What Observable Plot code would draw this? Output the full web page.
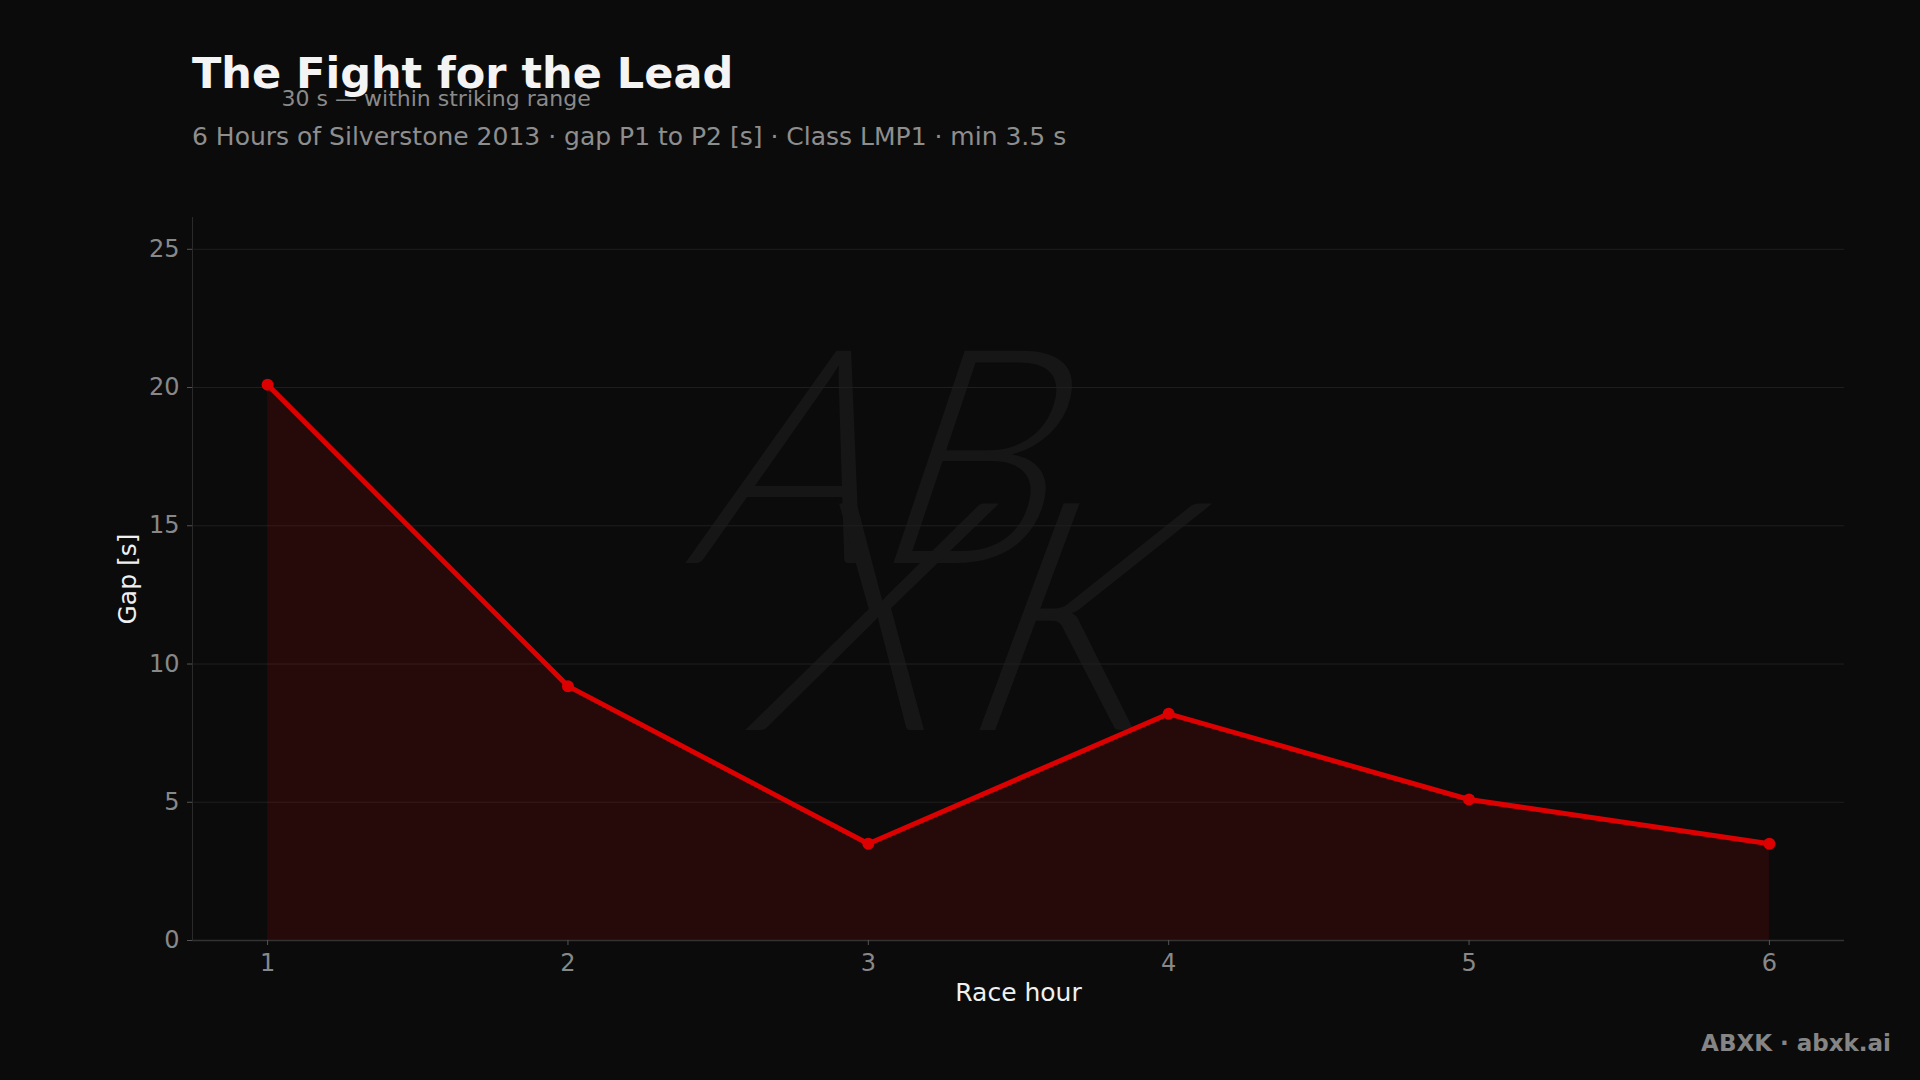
<!DOCTYPE html>
<html>
<head>
<meta charset="utf-8">
<script src="https://cdn.jsdelivr.net/npm/d3@7"></script>
<script src="https://cdn.jsdelivr.net/npm/@observablehq/plot@0.6"></script>
<style>
  html, body { margin: 0; padding: 0; background: #0b0b0b; }
  #page { position: relative; width: 1920px; height: 1080px; overflow: hidden; background: #0b0b0b; font-family: "DejaVu Sans", sans-serif; }
  #title { position: absolute; left: 192px; top: 52px; font-size: 43px; font-weight: bold; color: #f4f4f4; white-space: nowrap; line-height: 1; }
  #subtitle { position: absolute; left: 192px; top: 124px; font-size: 25px; color: #8e8e8e; white-space: nowrap; line-height: 1; }
  #footer { position: absolute; right: 29px; top: 1032px; font-size: 23px; font-weight: bold; color: #858585; white-space: nowrap; line-height: 1; }
  #wm { position: absolute; left: 0; top: 0; }
  #chart { position: absolute; left: 0; top: 0; }
</style>
</head>
<body>
<div id="page">
  <svg id="wm" width="1920" height="1080">
    <g fill="#161616" font-family="Lato, sans-serif" font-style="italic" font-weight="300" font-size="300">
      <text x="700" y="563" transform="skewX(-12) translate(112,0)">AB</text>
      <text x="770" y="730" letter-spacing="20" font-size="320" transform="skewX(-14) translate(165,0)">XK</text>
    </g>
  </svg>
  <div id="chart"></div>
  <div id="title">The Fight for the Lead</div>
  <div id="subtitle">6 Hours of Silverstone 2013 · gap P1 to P2 [s] · Class LMP1 · min 3.5 s</div>
  <div id="footer">ABXK · abxk.ai</div>
</div>
<script>
// ---- data ----
const hours = [1, 2, 3, 4, 5, 6];
const gaps = [20.1, 9.2, 3.5, 8.2, 5.1, 3.5];
const yTicks = [0, 5, 10, 15, 20, 25];
const xTicks = [1, 2, 3, 4, 5, 6];
const annotationX = [1];
const annotationY = [30];
const annotationText = ["30 s — within striking range"];
const xLabel = "Race hour";
const yLabel = "Gap [s]";

const data = hours.map((h, i) => ({hour: h, gap: gaps[i]}));
const notes = annotationX.map((x, i) => ({x, y: annotationY[i], text: annotationText[i]}));

const red = "#dd0000";

const chart = Plot.plot({
  width: 1920,
  height: 1080,
  marginTop: 217,
  marginBottom: 140,
  marginLeft: 192,
  marginRight: 76,
  style: {background: "transparent", color: "#888", fontFamily: "DejaVu Sans, sans-serif", fontSize: "24px", overflow: "visible"},
  x: {domain: [0.75, 6.25]},
  y: {domain: [0, 26.15]},
  marks: [
    Plot.gridY(yTicks.filter(d => d > 0), {stroke: "#1f1f1f", strokeOpacity: 1, strokeWidth: 1}),
    Plot.areaY(data, {x: "hour", y: "gap", fill: red, fillOpacity: 0.13}),
    Plot.ruleY([0], {stroke: "#333", strokeWidth: 1.5}),
    Plot.ruleX([0.75], {y1: 0, y2: 26.15, stroke: "#2a2a2a", strokeWidth: 1}),
    Plot.axisY({ticks: yTicks, tickSize: 5, tickPadding: 8, stroke: "#555", fill: "#888", fontSize: 24, label: null, tickFormat: d => String(d)}),
    Plot.axisX({ticks: xTicks, tickSize: 5, tickPadding: 8, stroke: "#555", fill: "#888", fontSize: 24, label: null, tickFormat: d => String(d)}),
    Plot.text([xLabel], {frameAnchor: "bottom", dy: 60, textAnchor: "middle", fill: "#f0f0f0", fontSize: 25}),
    Plot.text([yLabel], {frameAnchor: "left", dx: -65, rotate: -90, textAnchor: "middle", fill: "#f0f0f0", fontSize: 25}),
    Plot.line(data, {x: "hour", y: "gap", stroke: red, strokeWidth: 5}),
    Plot.dot(data, {x: "hour", y: "gap", fill: red, r: 6}),
    Plot.text(notes, {x: "x", y: "y", text: "text", dx: 14, dy: -5, textAnchor: "start", lineAnchor: "bottom", fill: "#8a8a8a", fontSize: 22, clip: false})
  ]
});
document.getElementById("chart").appendChild(chart);
</script>
</body>
</html>
